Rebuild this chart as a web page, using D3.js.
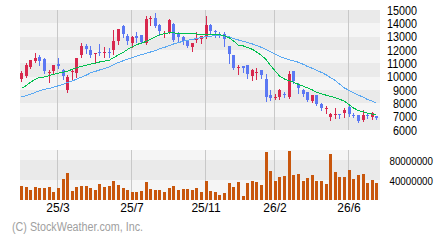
<!DOCTYPE html>
<html>
<head>
<meta charset="utf-8">
<script src="https://cdn.jsdelivr.net/npm/d3@7"></script>
<style>
html, body { margin: 0; padding: 0; background: #fff; }
svg { display: block; font-family: "Liberation Sans", Arial, sans-serif; }
</style>
</head>
<body>
<div id="chart"></div>
<script>
// weekly candles, oldest first
var openP = [9825, 10050, 10725, 11175, 11440, 11325, 10300, 10425, 10950, 10500,
    9000, 10400, 10275, 11625, 12300, 12000, 11700, 11850, 11775, 11875,
    12000, 12675, 13800, 13050, 12525, 13050, 13125, 12525, 14350, 14400,
    13875, 13250, 13350, 13950, 13200, 12975, 12675, 12225, 12800, 12825,
    13000, 13875, 13450, 13225, 13200, 12300, 11625, 10700, 10800, 10875,
    10050, 10325, 10500, 9825, 8625, 8450, 8475, 8700, 8450, 10425,
    9450, 9000, 8850, 8175, 8625, 7950, 7625, 6975, 7175, 7200,
    7275, 7725, 7125, 7125, 6750, 7150, 6975, 7050];
var closeP = [10275, 10875, 11250, 11400, 11210, 10400, 10350, 10875, 10800, 10050,
    9975, 10450, 11400, 12300, 12075, 11625, 11775, 11775, 11850, 11825,
    12675, 13575, 13200, 12675, 12975, 12900, 12600, 14325, 14400, 13825,
    13425, 13300, 14250, 12775, 12975, 12675, 12325, 12525, 12850, 13050,
    13875, 13425, 13400, 13175, 12825, 11700, 10650, 10750, 10650, 10200,
    10500, 10375, 10125, 8475, 8400, 8500, 9000, 8625, 10200, 9700,
    9150, 8700, 8250, 8625, 7950, 7650, 7675, 7200, 7225, 7175,
    7500, 7200, 7050, 6675, 7125, 7100, 7275, 6900];
var highP = [10425, 11025, 11250, 11775, 11590, 11400, 10500, 10875, 11425, 10575,
    10100, 10575, 11400, 12525, 12450, 12300, 11775, 12450, 12225, 12150,
    13500, 13575, 13875, 13200, 13050, 13350, 13125, 14550, 14550, 14775,
    13950, 13425, 14325, 14025, 13350, 13050, 12750, 12525, 13350, 13050,
    14550, 13950, 13500, 13350, 13350, 12300, 11625, 10875, 10800, 10875,
    10575, 10650, 10500, 10200, 9000, 8700, 9075, 8850, 10425, 10425,
    9525, 9075, 8850, 8625, 8625, 8025, 7800, 7275, 7650, 7200,
    7650, 7950, 7275, 7125, 7500, 7275, 7350, 7050];
var lowP = [9675, 9975, 10650, 11100, 10840, 10310, 9575, 10275, 10650, 9800,
    8850, 9825, 9950, 11475, 11775, 11475, 11025, 11625, 11475, 11500,
    11700, 12450, 12975, 12450, 12225, 12600, 12525, 12450, 13875, 13725,
    13125, 12975, 13275, 12675, 12575, 12450, 12225, 11925, 12600, 12525,
    12900, 13275, 12975, 12975, 12300, 11025, 10575, 10200, 10350, 9900,
    9750, 9825, 9900, 8175, 8250, 8325, 8325, 8475, 8375, 9550,
    8775, 8550, 8175, 8100, 7875, 7500, 7275, 6750, 6900, 6900,
    6975, 7050, 6975, 6600, 6675, 6900, 6825, 6825];
// short (green) and long (blue) moving averages
var maShort = [9120, 9350, 9580, 9820, 9930, 9980, 10080, 10180, 10270, 10340,
    10420, 10550, 10670, 10780, 10860, 10940, 11020, 11100, 11170, 11240,
    11420, 11630, 11830, 12040, 12250, 12400, 12520, 12650, 12800, 12980,
    13150, 13220, 13290, 13280, 13260, 13250, 13250, 13230, 13200, 13180,
    13180, 13170, 13150, 13140, 13070, 12900, 12680, 12360, 12300, 12180,
    12050, 11850, 11600, 11250, 10850, 10400, 10050, 9820, 9690, 9580,
    9420, 9280, 9160, 9000, 8840, 8720, 8600, 8520, 8420, 8320,
    8150, 7880, 7650, 7450, 7360, 7270, 7190, 7120];
var maLong = [8480, 8580, 8690, 8820, 8950, 9050, 9120, 9220, 9320, 9430,
    9560, 9680, 9820, 9960, 10120, 10280, 10400, 10500, 10620, 10740,
    10900, 11060, 11200, 11320, 11430, 11540, 11650, 11760, 11850, 11960,
    12080, 12200, 12330, 12450, 12560, 12660, 12730, 12790, 12860, 12950,
    13000, 13040, 13080, 13100, 13050, 12980, 12860, 12750, 12650, 12560,
    12450, 12330, 12200, 12020, 11880, 11680, 11520, 11380, 11270, 11180,
    11080, 10920, 10760, 10620, 10480, 10320, 10120, 9920, 9700, 9450,
    9150, 8950, 8780, 8620, 8450, 8290, 8150, 8000];
// weekly volume, millions of shares
var volume = [28, 26, 20, 26, 24, 24, 26, 16, 24, 42, 54, 18, 26, 28, 28, 24, 20, 32, 26, 28,
    38, 30, 24, 20, 16, 16, 18, 36, 22, 20, 20, 16, 24, 28, 20, 22, 22, 20, 24, 16,
    38, 18, 16, 10, 14, 34, 26, 36, 8, 34, 38, 36, 30, 96, 58, 38, 46, 48, 98, 50,
    52, 38, 44, 50, 38, 38, 32, 92, 56, 46, 46, 60, 42, 50, 52, 34, 40, 34];

var xTickIndex = [8, 24, 40, 55, 71];
var xTickLabels = ["25/3", "25/7", "25/11", "26/2", "26/6"];
var priceTicks = [6000, 7000, 8000, 9000, 10000, 11000, 12000, 13000, 14000, 15000];
var volBandEdges = [0, 40000000, 80000000, 100000000];
var volTicks = [40000000, 80000000];

var W = 440, H = 240;
var plotL = 20, plotR = 380;
var priceTop = 10, priceBot = 130;
var volTop = 150, volBot = 200;
var upColor = "#d8284e", downColor = "#5b78f3";
var bandDark = "#eaeaea", bandLight = "#f5f5f5";

var svg = d3.select("#chart").append("svg")
    .attr("width", W)
    .attr("height", H);

var x = d3.scaleBand().domain(d3.range(openP.length)).range([plotL, plotR]).padding(0);
var y = d3.scaleLinear().domain([6000, 15000]).range([priceBot, priceTop]);
var yv = d3.scaleLinear().domain([0, 100000000]).range([volBot, volTop]);

function px(i) { return Math.round(x(i)); }

// price background bands
svg.append("g").selectAll("rect").data(priceTicks.slice(0, -1)).enter().append("rect")
    .attr("x", plotL)
    .attr("width", plotR - plotL)
    .attr("y", function (d) { return Math.round(y(d + 1000)); })
    .attr("height", function (d) { return Math.round(y(d)) - Math.round(y(d + 1000)); })
    .attr("fill", function (d, i) { return i % 2 === 0 ? bandDark : bandLight; });

// volume background bands
svg.append("g").selectAll("rect").data(volBandEdges.slice(0, -1)).enter().append("rect")
    .attr("x", plotL)
    .attr("width", plotR - plotL)
    .attr("y", function (d, i) { return Math.round(yv(volBandEdges[i + 1])); })
    .attr("height", function (d, i) { return Math.round(yv(d)) - Math.round(yv(volBandEdges[i + 1])); })
    .attr("fill", function (d, i) { return i % 2 === 1 ? bandDark : bandLight; });

// month gridlines
var grid = svg.append("g").attr("stroke", "#c8c8c8").attr("shape-rendering", "crispEdges");
xTickIndex.forEach(function (i) {
    var gx = px(i) + 0.5;
    grid.append("line").attr("x1", gx).attr("x2", gx).attr("y1", priceTop).attr("y2", priceBot);
    grid.append("line").attr("x1", gx).attr("x2", gx).attr("y1", volTop).attr("y2", volBot);
});

// candles
var candles = svg.append("g").attr("shape-rendering", "crispEdges")
    .selectAll("g").data(d3.range(openP.length)).enter().append("g")
    .attr("fill", function (i) { return closeP[i] >= openP[i] ? upColor : downColor; })
    .attr("stroke", function (i) { return closeP[i] >= openP[i] ? upColor : downColor; });

candles.append("line")
    .attr("x1", function (i) { return px(i) + 1.5; })
    .attr("x2", function (i) { return px(i) + 1.5; })
    .attr("y1", function (i) { return Math.round(y(highP[i])); })
    .attr("y2", function (i) { return Math.round(y(lowP[i])) + 1; });

candles.append("rect")
    .attr("stroke", "none")
    .attr("x", function (i) { return px(i); })
    .attr("width", 3)
    .attr("y", function (i) { return Math.round(y(Math.max(openP[i], closeP[i]))); })
    .attr("height", function (i) {
        var top = Math.round(y(Math.max(openP[i], closeP[i])));
        var bot = Math.round(y(Math.min(openP[i], closeP[i])));
        return Math.max(1, bot - top);
    });

// moving averages
var maLine = d3.line()
    .x(function (d, i) { return px(i) + 1.5; })
    .y(function (d) { return y(d); });

svg.append("path").datum(maLong)
    .attr("d", maLine)
    .attr("fill", "none")
    .attr("stroke", "#5aa8f2")
    .attr("stroke-width", 1)
    .attr("shape-rendering", "crispEdges");

svg.append("path").datum(maShort)
    .attr("d", maLine)
    .attr("fill", "none")
    .attr("stroke", "#00c04e")
    .attr("stroke-width", 1)
    .attr("shape-rendering", "crispEdges");

// volume bars
svg.append("g").attr("shape-rendering", "crispEdges")
    .selectAll("rect").data(volume).enter().append("rect")
    .attr("x", function (d, i) { return px(i); })
    .attr("width", 3)
    .attr("y", function (d) { return Math.round(yv(d * 1e6)); })
    .attr("height", function (d) { return volBot - Math.round(yv(d * 1e6)); })
    .attr("fill", "#c8560c");

// price axis labels
svg.append("g").selectAll("text").data(priceTicks).enter().append("text")
    .attr("x", 417)
    .attr("y", function (d) { return y(d) + 4.5; })
    .attr("text-anchor", "end")
    .attr("font-size", 12)
    .attr("textLength", function (d) { return String(d).length * 6; })
    .attr("lengthAdjust", "spacingAndGlyphs")
    .attr("fill", "#000")
    .text(function (d) { return d; });

// volume axis labels
svg.append("g").selectAll("text").data(volTicks).enter().append("text")
    .attr("x", 433)
    .attr("y", function (d) { return yv(d) + 4.5; })
    .attr("text-anchor", "end")
    .attr("font-size", 11)
    .attr("textLength", 43.5)
    .attr("lengthAdjust", "spacingAndGlyphs")
    .attr("fill", "#000")
    .text(function (d) { return d; });

// month labels
svg.append("g").selectAll("text").data(xTickIndex).enter().append("text")
    .attr("x", function (i) { return px(i) + 1; })
    .attr("y", 212)
    .attr("text-anchor", "middle")
    .attr("font-size", 12)
    .attr("fill", "#000")
    .text(function (d, k) { return xTickLabels[k]; });

svg.append("text")
    .attr("x", 12)
    .attr("y", 231)
    .attr("font-size", 12)
    .attr("textLength", 131)
    .attr("lengthAdjust", "spacingAndGlyphs")
    .attr("fill", "#a0a0a0")
    .text("(C) StockWeather.com, Inc.");
</script>
</body>
</html>
